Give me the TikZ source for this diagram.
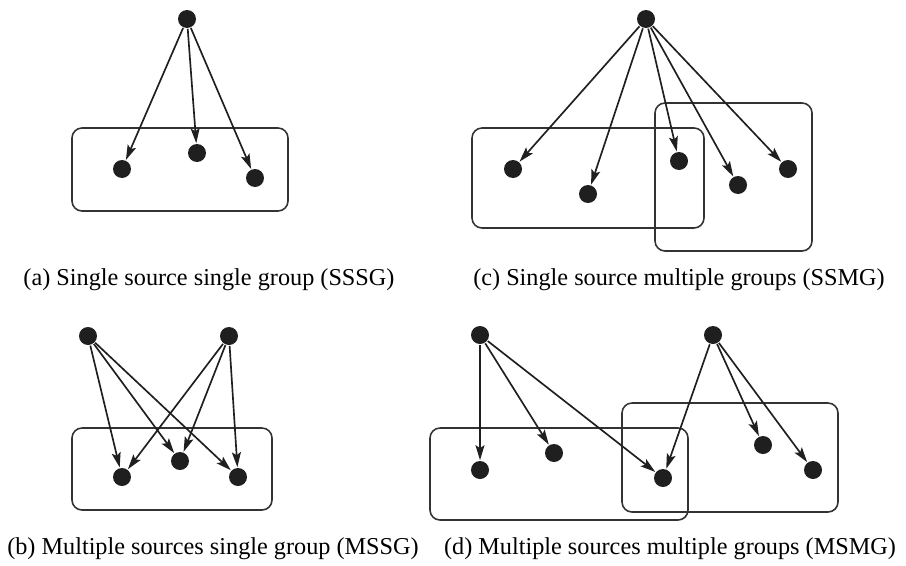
\documentclass[tikz,border=0pt]{standalone}
\usepackage{fontspec}
\setmainfont{Liberation Serif}
\usetikzlibrary{arrows.meta,positioning}
\tikzset{>={Stealth[length=3mm,width=1.8mm,inset=0.6mm]},shorten >=0pt}
\tikzset{vertex/.style={circle,fill=black!88,inner sep=0pt,minimum size=3.6mm}}
\tikzset{group/.style={draw=black!80,line width=0.9pt,rounded corners=2mm}}
\tikzset{caption/.style={font=\fontsize{13.8}{16}\selectfont,inner sep=0pt}}

\begin{document}
\begin{tikzpicture}[x=0.02cm,y=-0.02cm,line width=0.95pt,draw=black!88]
            \useasboundingbox (0,0) rectangle (906,565);
            % (a) one source, one group
            \draw[group] (72,128) rectangle (288,211);
            \node[vertex] (a0) at (187,19)  {};
            \node[vertex] (a1) at (122,169) {};
            \node[vertex] (a2) at (197,153) {};
            \node[vertex] (a3) at (255,178) {};
            \path[->]
                (a0) edge (a1)
                (a0) edge (a2)
                (a0) edge (a3);
            % (c) one source, two groups
            \draw[group] (472,128) rectangle (704,228);
            \draw[group] (655,103) rectangle (812,251);
            \node[vertex] (c0) at (646,19)  {};
            \node[vertex] (c1) at (513,169) {};
            \node[vertex] (c2) at (588,194) {};
            \node[vertex] (c3) at (679,161) {};
            \node[vertex] (c4) at (738,185) {};
            \node[vertex] (c5) at (788,169) {};
            \path[->]
                (c0) edge (c1)
                (c0) edge (c2)
                (c0) edge (c3)
                (c0) edge (c4)
                (c0) edge (c5);
            % (b) two sources, one group
            \draw[group] (72,428) rectangle (272,510);
            \node[vertex] (b0) at (88,336)  {};
            \node[vertex] (b9) at (229,336) {};
            \node[vertex] (b1) at (122,477) {};
            \node[vertex] (b2) at (180,461) {};
            \node[vertex] (b3) at (238,477) {};
            \path[->]
                (b0) edge (b1)
                (b0) edge (b2)
                (b0) edge (b3)
                (b9) edge (b1)
                (b9) edge (b2)
                (b9) edge (b3);
            % (d) two sources, two groups
            \draw[group] (430,428) rectangle (688,520);
            \draw[group] (622,403) rectangle (838,512);
            \node[vertex] (d0) at (480,335) {};
            \node[vertex] (d9) at (713,335) {};
            \node[vertex] (d1) at (480,470) {};
            \node[vertex] (d2) at (554,453) {};
            \node[vertex] (d3) at (663,478) {};
            \node[vertex] (d4) at (763,445) {};
            \node[vertex] (d5) at (813,470) {};
            \path[->]
                (d0) edge (d1)
                (d0) edge (d2)
                (d0) edge (d3)
                (d9) edge (d3)
                (d9) edge (d4)
                (d9) edge (d5);
            % captions
            \node[caption] (capa) at (209,280) {(a) Single source single group (SSSG)};
            \node[caption] (capc) at (679,280) {(c) Single source multiple groups (SSMG)};
            \node[caption] (capb) at (213,549) {(b) Multiple sources single group (MSSG)};
            \node[caption] (capd) at (670,549) {(d) Multiple sources multiple groups (MSMG)};
        \end{tikzpicture}
\end{document}
